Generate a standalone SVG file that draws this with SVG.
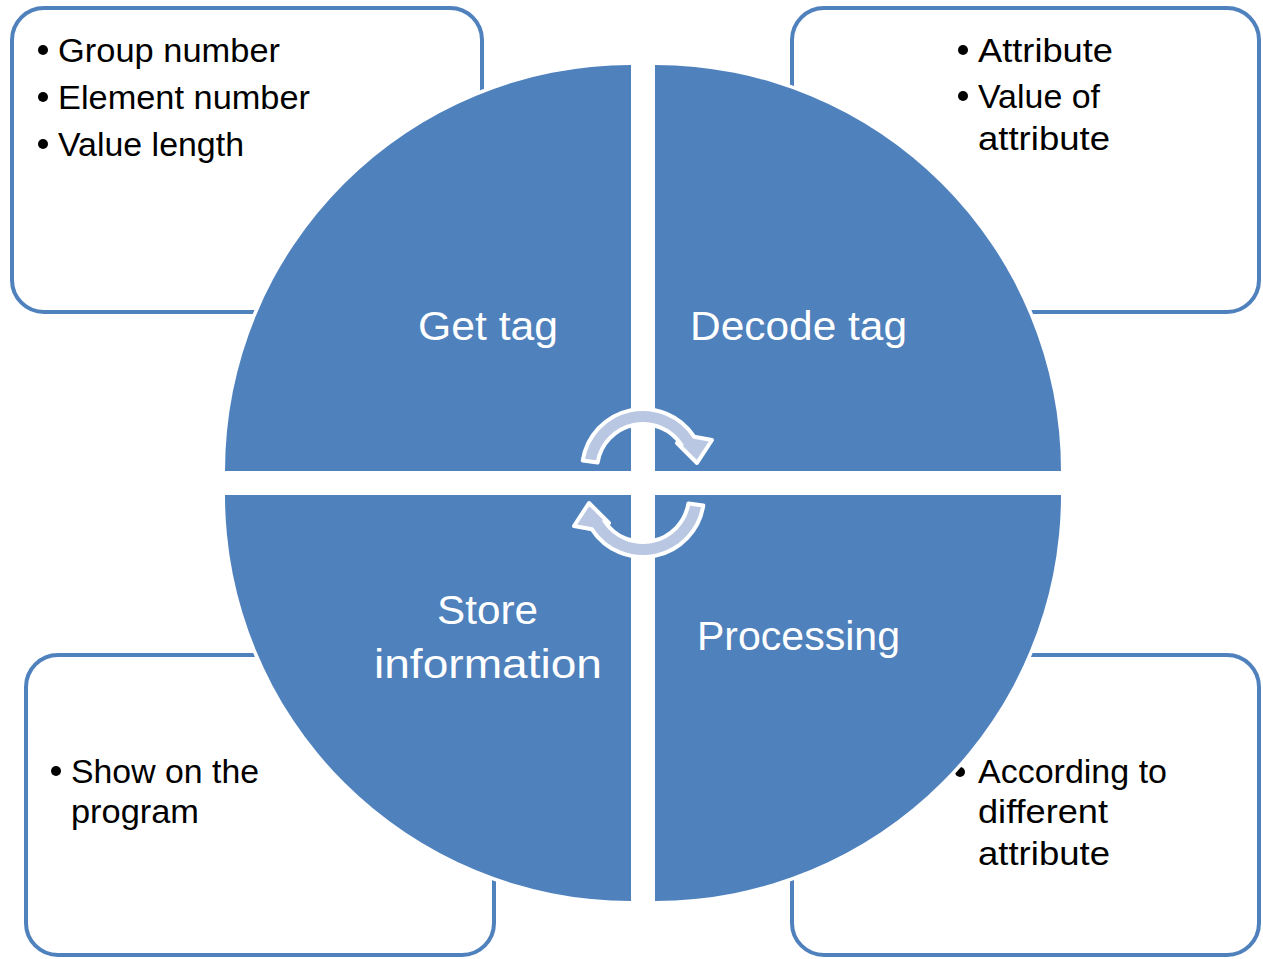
<svg xmlns="http://www.w3.org/2000/svg" width="1263" height="959" viewBox="0 0 1263 959">
<style>
.box{fill:#ffffff;stroke:#4F81BD;stroke-width:4}
.bt{font-family:"Liberation Sans",Arial,sans-serif;font-size:33px;fill:#000000}
.dot{fill:#000000}
.halo{fill:none;stroke:#ffffff;stroke-width:7}
.q{fill:#4F81BD}
.lbl{font-family:"Liberation Sans",Arial,sans-serif;font-size:41px;fill:#ffffff;text-anchor:middle}
.arr{fill:#B9C7E2;stroke:#ffffff;stroke-width:4;stroke-linejoin:round}
</style>
<rect width="1263" height="959" fill="#ffffff"/>
<g id="box-tl">
<rect class="box" x="12" y="8" width="470" height="304" rx="32"/>
<circle class="dot" cx="43" cy="50" r="5"/>
<text class="bt" x="58" y="62" textLength="222" lengthAdjust="spacingAndGlyphs">Group number</text>
<circle class="dot" cx="43" cy="97" r="5"/>
<text class="bt" x="58" y="109" textLength="252" lengthAdjust="spacingAndGlyphs">Element number</text>
<circle class="dot" cx="43" cy="144" r="5"/>
<text class="bt" x="58" y="156" textLength="186" lengthAdjust="spacingAndGlyphs">Value length</text>
</g>
<g id="box-tr">
<rect class="box" x="792" y="8" width="467" height="304" rx="32"/>
<circle class="dot" cx="963" cy="50" r="5"/>
<text class="bt" x="978" y="62" textLength="135" lengthAdjust="spacingAndGlyphs">Attribute</text>
<circle class="dot" cx="963" cy="96" r="5"/>
<text class="bt" x="978" y="108" textLength="122" lengthAdjust="spacingAndGlyphs">Value of</text>
<text class="bt" x="978" y="150" textLength="132" lengthAdjust="spacingAndGlyphs">attribute</text>
</g>
<g id="box-bl">
<rect class="box" x="26" y="655" width="468" height="300" rx="32"/>
<circle class="dot" cx="56" cy="771" r="5"/>
<text class="bt" x="71" y="783" textLength="188" lengthAdjust="spacingAndGlyphs">Show on the</text>
<text class="bt" x="71" y="823" textLength="128" lengthAdjust="spacingAndGlyphs">program</text>
</g>
<g id="box-br">
<rect class="box" x="792" y="655" width="467" height="300" rx="32"/>
<circle class="dot" cx="960" cy="772" r="5"/>
<text class="bt" x="978" y="783" textLength="189" lengthAdjust="spacingAndGlyphs">According to</text>
<text class="bt" x="978" y="823" textLength="130" lengthAdjust="spacingAndGlyphs">different</text>
<text class="bt" x="978" y="865" textLength="132" lengthAdjust="spacingAndGlyphs">attribute</text>
</g>
<g id="q-get-tag">
<path class="halo" d="M225,471 A406,406 0 0 1 631,65"/>
<path class="q" d="M631,471 L225,471 A406,406 0 0 1 631,65 Z"/>
<text class="lbl" x="488" y="340" textLength="140" lengthAdjust="spacingAndGlyphs">Get tag</text>
</g>
<g id="q-decode-tag">
<path class="halo" d="M655,65 A406,406 0 0 1 1061,471"/>
<path class="q" d="M655,471 L655,65 A406,406 0 0 1 1061,471 Z"/>
<text class="lbl" x="798.5" y="340" textLength="217" lengthAdjust="spacingAndGlyphs">Decode tag</text>
</g>
<g id="q-store">
<path class="halo" d="M631,901 A406,406 0 0 1 225,495"/>
<path class="q" d="M631,495 L631,901 A406,406 0 0 1 225,495 Z"/>
<text class="lbl" x="487.5" y="624" textLength="101" lengthAdjust="spacingAndGlyphs">Store</text>
<text class="lbl" x="488" y="678" textLength="228" lengthAdjust="spacingAndGlyphs">information</text>
</g>
<g id="q-processing">
<path class="halo" d="M1061,495 A406,406 0 0 1 655,901"/>
<path class="q" d="M655,495 L1061,495 A406,406 0 0 1 655,901 Z"/>
<text class="lbl" x="798.5" y="650" textLength="203" lengthAdjust="spacingAndGlyphs">Processing</text>
</g>
<g id="connectors">
<path id="arrow-top" class="arr" d="M582.7,460.6 A61,61 0 0 1 694.1,436.7 L712,440 L697,463 L677,443 L681.6,445 A46,46 0 0 0 597.6,462.6 Z"/>
<use href="#arrow-top" transform="rotate(180 643 483)"/>
</g>
</svg>
